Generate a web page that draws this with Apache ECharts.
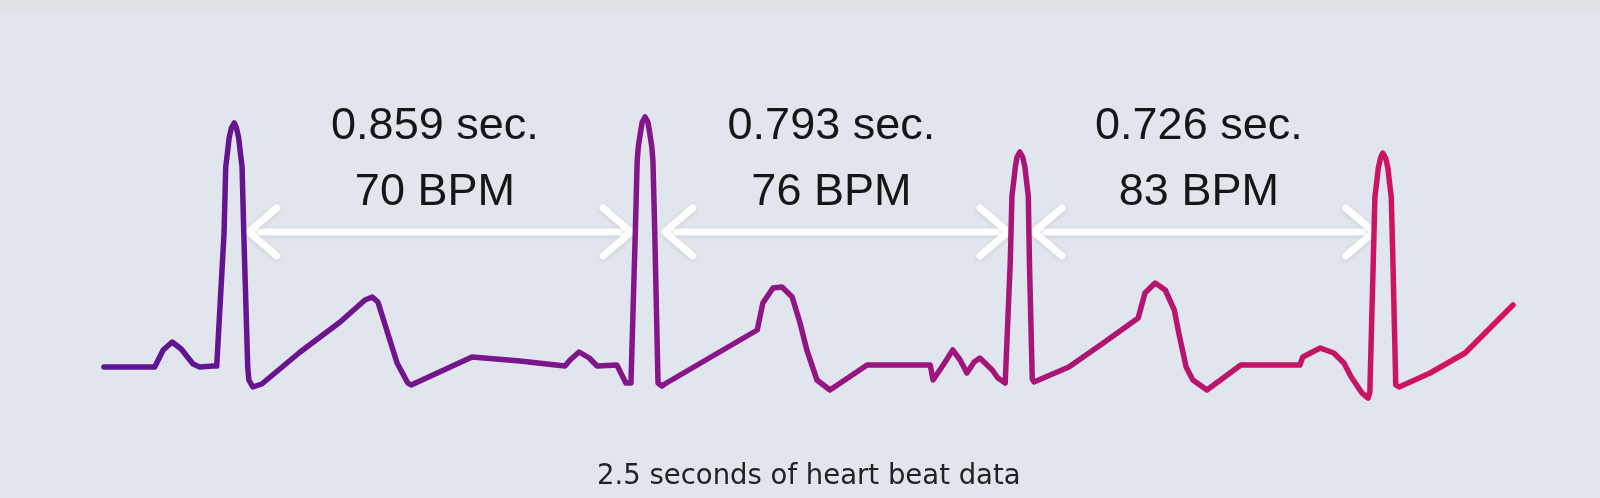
<!DOCTYPE html>
<html>
<head>
<meta charset="utf-8">
<script src="https://cdn.jsdelivr.net/npm/echarts@6/dist/echarts.min.js"></script>
<style>
  html, body { margin: 0; padding: 0; }
  body { background: linear-gradient(#dfe3e8 0, #dfe3e8 10px, #e1e6ee 10px); }
  #chart { width: 1600px; height: 498px; }
</style>
</head>
<body>
<div id="chart"></div>
<script>
// ECG trace, time in ms and amplitude in mV
var timeMs = [
  0, 90, 105, 121, 137, 158, 170, 193,
  200, 213, 216, 219, 222, 226, 231, 235, 239, 242, 245, 248, 255, 257, 264,
  280, 348, 419, 463, 476, 486, 520, 539, 545,
  653, 738, 818, 827, 843, 861, 875, 910, 926,
  935, 943, 946, 948, 952, 955, 960, 965, 968, 972, 974, 977, 983, 990, 995,
  1159, 1169, 1187, 1203, 1221, 1235, 1247, 1265, 1288, 1354, 1466,
  1471, 1489, 1506, 1519, 1531, 1544, 1554, 1565, 1576, 1586, 1599,
  1602, 1608, 1611, 1614, 1617, 1620, 1625, 1630, 1634, 1637, 1640, 1642, 1647, 1650,
  1712, 1773, 1835, 1847, 1865, 1883, 1899, 1907, 1920, 1932, 1957,
  2017, 2122, 2127, 2158, 2182, 2200, 2213, 2232, 2243,
  2246, 2252, 2255, 2258, 2261, 2265, 2269, 2274, 2278, 2281, 2284, 2287, 2292, 2298,
  2353, 2415, 2500
];
var amplitude = [
  0, 0, 0.17, 0.25, 0.18, 0.03, 0, 0.01,
  0.01, 1.34, 2.0, 2.14, 2.29, 2.39, 2.44, 2.39, 2.29, 2.14, 2.0, 1.34, 0, -0.13, -0.2,
  -0.17, 0.15, 0.45, 0.67, 0.70, 0.65, 0.04, -0.16, -0.18,
  0.10, 0.06, 0.01, 0.07, 0.15, 0.09, 0.01, 0.02, -0.16,
  -0.16, 1.40, 2.06, 2.20, 2.35, 2.45, 2.50, 2.45, 2.35, 2.20, 2.06, 1.40, -0.16, -0.19, -0.17,
  0.37, 0.64, 0.79, 0.80, 0.70, 0.44, 0.17, -0.13, -0.23, 0.02, 0.02,
  -0.13, 0.02, 0.17, 0.07, -0.06, 0.05, 0.09, 0.03, -0.03, -0.11, -0.16,
  -0.16, 1.05, 1.71, 1.85, 2.00, 2.10, 2.15, 2.10, 2.00, 1.85, 1.71, 1.05, -0.12, -0.15,
  0, 0.24, 0.49, 0.74, 0.84, 0.77, 0.57, 0.34, 0, -0.13, -0.23,
  0.02, 0.02, 0.10, 0.19, 0.14, 0.04, -0.10, -0.26, -0.31,
  -0.25, 1.04, 1.70, 1.84, 1.99, 2.09, 2.14, 2.09, 1.99, 1.84, 1.70, 1.04, -0.18, -0.2,
  -0.06, 0.14, 0.62
];

// R-R intervals (arrow start / end in ms), durations and heart rate
var rrStart = [257, 995, 1650];
var rrEnd = [935, 1604, 2253];
var rrSec = [0.859, 0.793, 0.726];
var rrBpm = [70, 76, 83];

var caption = '2.5 seconds of heart beat data';

var ecg = timeMs.map(function (t, i) { return [t, amplitude[i]]; });
var intervals = rrStart.map(function (s, i) { return [s, rrEnd[i]]; });

var myChart = echarts.init(document.getElementById('chart'));

var ARROW_Y = 1.35;   // mV level of the arrows
var SEC_Y = 2.40;     // first label line
var BPM_Y = 1.74;     // second label line

myChart.setOption({
  backgroundColor: 'transparent',
  animation: false,
  title: {
    text: caption,
    left: 597,
    top: 463,
    padding: 0,
    textStyle: {
      fontFamily: 'DejaVu Sans',
      fontSize: 27.5,
      fontWeight: 'normal',
      color: '#222'
    }
  },
  grid: { left: 104, right: 87, top: 117, bottom: 81 },
  xAxis: {
    type: 'value',
    min: 0,
    max: 2500,
    show: false
  },
  yAxis: {
    type: 'value',
    min: -0.5,
    max: 2.5,
    show: false
  },
  series: [
    {
      type: 'line',
      data: ecg,
      showSymbol: false,
      smooth: false,
      clip: false,
      lineStyle: {
        width: 5.5,
        cap: 'round',
        join: 'round',
        color: new echarts.graphic.LinearGradient(0, 0, 1, 0, [
          { offset: 0, color: '#5a1492' },
          { offset: 0.45, color: '#8c1588' },
          { offset: 1, color: '#d8145a' }
        ])
      },
      z: 3
    },
    {
      type: 'custom',
      data: intervals,
      clip: false,
      z: 2,
      renderItem: function (params, api) {
        var i = params.dataIndex;
        var a = api.coord([api.value(0), ARROW_Y]);
        var b = api.coord([api.value(1), ARROW_Y]);
        var mid = (api.value(0) + api.value(1)) / 2;
        var t1 = api.coord([mid, SEC_Y]);
        var t2 = api.coord([mid, BPM_Y]);
        var arrowStyle = {
          stroke: '#ffffff',
          lineWidth: 7,
          lineCap: 'round',
          lineJoin: 'round',
          fill: null,
          shadowBlur: 4,
          shadowColor: 'rgba(0,0,0,0.12)',
          shadowOffsetY: 1
        };
        var label = function (txt, p) {
          return {
            type: 'text',
            x: p[0] - 5,
            y: p[1],
            style: {
              text: txt,
              fontFamily: 'Liberation Sans',
              fontSize: 45,
              fill: '#161616',
              align: 'center',
              verticalAlign: 'middle'
            }
          };
        };
        return {
          type: 'group',
          children: [
            { type: 'line', shape: { x1: a[0] + 3, y1: a[1], x2: b[0] - 3, y2: b[1] }, style: arrowStyle },
            { type: 'polyline', shape: { points: [[a[0] + 28, a[1] - 24], [a[0], a[1]], [a[0] + 28, a[1] + 24]] }, style: arrowStyle },
            { type: 'polyline', shape: { points: [[b[0] - 28, b[1] - 24], [b[0], b[1]], [b[0] - 28, b[1] + 24]] }, style: arrowStyle },
            label(rrSec[i].toFixed(3) + ' sec.', t1),
            label(rrBpm[i] + ' BPM', t2)
          ]
        };
      }
    }
  ]
});
</script>
</body>
</html>
